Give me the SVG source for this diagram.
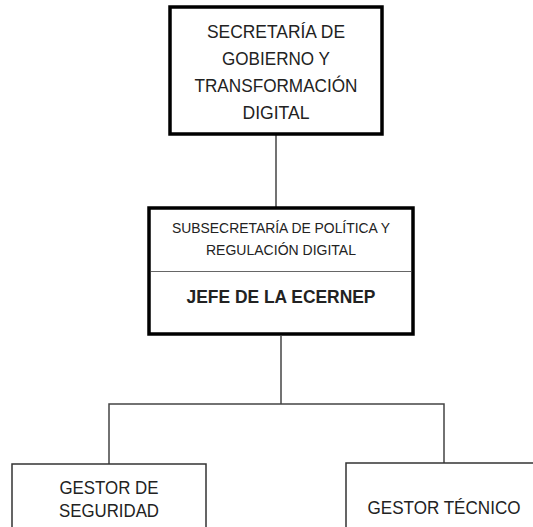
<svg xmlns="http://www.w3.org/2000/svg" width="533" height="527" viewBox="0 0 533 527">
<style>
.t{font-family:"Liberation Sans",Arial,sans-serif;fill:#222;text-anchor:middle}
.thick{fill:#fff;stroke:#000;stroke-width:3.5}
.thin{fill:#fff;stroke:#333;stroke-width:1.5}
.conn{stroke:#444;stroke-width:1.5;fill:none}
</style>
<rect width="533" height="527" fill="#fff"/>
<g id="connectors">
<line class="conn" x1="276" y1="135" x2="276" y2="208"/>
<line class="conn" x1="281" y1="336" x2="281" y2="404"/>
<polyline class="conn" points="109,464 109,404 444,404 444,463"/>
</g>
<g id="secretaria">
<rect class="thick" x="170" y="7" width="212" height="127"/>
<text class="t" font-size="18.5" x="276" y="38" textLength="138" lengthAdjust="spacingAndGlyphs">SECRETARÍA DE</text>
<text class="t" font-size="18.5" x="276" y="65" textLength="108" lengthAdjust="spacingAndGlyphs">GOBIERNO Y</text>
<text class="t" font-size="18.5" x="276" y="92" textLength="163" lengthAdjust="spacingAndGlyphs">TRANSFORMACIÓN</text>
<text class="t" font-size="18.5" x="276" y="119" textLength="67" lengthAdjust="spacingAndGlyphs">DIGITAL</text>
</g>
<g id="subsecretaria">
<rect class="thick" x="149" y="208" width="264" height="126"/>
<line x1="151" y1="271.5" x2="411" y2="271.5" stroke="#666" stroke-width="1.2"/>
<text class="t" font-size="15" x="281" y="233" textLength="218" lengthAdjust="spacingAndGlyphs">SUBSECRETARÍA DE POLÍTICA Y</text>
<text class="t" font-size="15" x="281" y="255" textLength="150" lengthAdjust="spacingAndGlyphs">REGULACIÓN DIGITAL</text>
<text class="t" font-size="18.5" font-weight="bold" x="281" y="303" fill="#111" textLength="189" lengthAdjust="spacingAndGlyphs">JEFE DE LA ECERNEP</text>
</g>
<g id="gestor-seguridad">
<rect class="thin" x="12" y="464" width="194" height="80"/>
<text class="t" font-size="18" x="109" y="494" textLength="99" lengthAdjust="spacingAndGlyphs">GESTOR DE</text>
<text class="t" font-size="18" x="109" y="517" textLength="100" lengthAdjust="spacingAndGlyphs">SEGURIDAD</text>
</g>
<g id="gestor-tecnico">
<rect class="thin" x="346" y="463" width="200" height="80"/>
<text class="t" font-size="18" x="444" y="514" textLength="153" lengthAdjust="spacingAndGlyphs">GESTOR TÉCNICO</text>
</g>
</svg>
